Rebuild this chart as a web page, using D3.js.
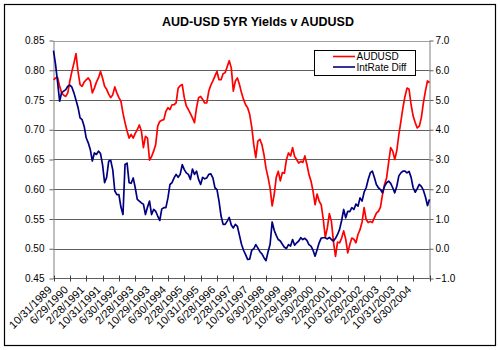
<!DOCTYPE html>
<html>
<head>
<meta charset="utf-8">
<script src="https://cdnjs.cloudflare.com/ajax/libs/d3/7.8.5/d3.min.js"></script>
<style>
  html, body { margin: 0; padding: 0; background: #fff; }
  svg { display: block; }
  text { font-family: "Liberation Sans", Arial, sans-serif; fill: #000; }
</style>
</head>
<body>
<svg id="chart" width="500" height="350"></svg>
<script>
// ---- data ----
const title = "AUD-USD 5YR Yields v AUDUSD";
const seriesNames = ["AUDUSD", "IntRate Diff"];
const tickLabels = ["10/31/1989","6/29/1990","2/28/1991","10/31/1991","6/30/1992","2/28/1993",
  "10/29/1993","6/30/1994","2/28/1995","10/31/1995","6/28/1996","2/28/1997","10/31/1997",
  "6/30/1998","2/28/1999","10/29/1999","6/30/2000","2/28/2001","10/31/2001","6/28/2002",
  "2/28/2003","10/31/2003","6/30/2004"];
const leftTicks = [0.45,0.50,0.55,0.60,0.65,0.70,0.75,0.80,0.85];
const rightTicks = [-1,0,1,2,3,4,5,6,7];

// AUDUSD (left axis), monthly from Oct 1989
const audusd = [
 .784,.787,.788,.773,.762,.758,.756,.762,.782,.798,.812,.828,.798,.776,.773,.780,.784,.787,.782,.762,
 .770,.780,.787,.798,.787,.773,.768,.760,.754,.759,.772,.762,.754,.748,.728,.712,.698,.686,.692,.686,
 .694,.700,.708,.698,.670,.689,.686,.649,.655,.664,.675,.706,.714,.716,.717,.731,.737,.734,.742,.742,
 .745,.770,.774,.776,.754,.740,.734,.727,.720,.712,.737,.754,.756,.751,.745,.745,.765,.775,.782,.790,
 .798,.784,.784,.794,.796,.806,.816,.804,.765,.782,.787,.776,.762,.751,.742,.737,.726,.705,.675,.653,
 .681,.684,.675,.658,.635,.620,.602,.572,.591,.620,.630,.614,.628,.627,.650,.661,.656,.670,.655,.650,
 .644,.647,.645,.656,.642,.625,.614,.597,.574,.592,.580,.574,.550,.519,.535,.559,.546,.512,.487,.511,
 .510,.518,.530,.516,.493,.507,.518,.516,.510,.524,.532,.545,.569,.549,.544,.546,.544,.552,.560,.563,
 .570,.591,.608,.619,.645,.670,.664,.650,.665,.692,.714,.737,.756,.770,.768,.742,.723,.712,.703,.706,
 .720,.745,.765,.782,.779
];
// Interest rate differential (right axis), monthly from Oct 1989
const intRateDiff = [
 6.66,6.20,5.60,4.96,5.25,5.30,5.35,5.46,5.50,5.43,5.24,5.00,4.75,4.40,4.34,4.12,3.73,3.56,3.34,2.95,
 3.22,3.17,3.28,3.20,2.83,2.22,2.40,2.94,2.97,2.65,1.94,1.82,1.82,1.40,1.15,2.83,2.88,2.22,2.20,2.38,
 2.05,1.66,1.60,1.54,1.50,1.15,1.40,1.60,1.15,1.32,1.26,1.10,0.95,1.34,1.38,1.38,1.71,2.16,2.22,2.38,
 2.50,2.40,2.50,2.83,2.66,2.55,2.50,2.33,2.68,2.50,2.61,2.33,2.16,2.40,2.35,2.38,2.50,2.52,2.38,2.05,
 1.99,1.60,1.10,0.82,0.82,0.93,1.05,0.80,0.70,0.82,0.75,0.45,0.15,-0.05,-0.20,-0.36,-0.35,-0.05,0.00,0.14,
 0.03,-0.10,-0.17,-0.30,-0.40,-0.10,0.15,0.90,0.62,0.45,0.31,0.26,0.15,0.05,0.01,0.14,0.09,0.31,0.12,0.20,
 0.26,0.37,0.31,0.35,0.28,0.14,0.09,-0.05,-0.25,-0.03,0.20,0.36,0.37,0.37,0.33,0.38,0.31,0.26,0.35,0.48,
 0.65,0.95,1.32,1.04,1.26,1.25,1.38,1.32,1.50,1.43,1.71,1.60,1.90,2.05,2.33,2.55,2.61,2.40,2.16,2.05,
 1.99,1.88,2.10,2.22,2.27,2.20,2.05,1.88,2.10,2.45,2.55,2.61,2.61,2.55,2.60,2.40,2.05,1.90,2.02,2.16,
 2.10,1.97,1.75,1.45,1.66
];
const tickEvery = 8; // months between category labels

// ---- layout ----
const svg = d3.select("#chart");
const M = {left: 53.5, right: 429.5, top: 40.5, bottom: 278.5};
const FONT = '"Liberation Sans", Arial, sans-serif';

const months = d3.range(audusd.length);
const x = d3.scaleLinear().domain([0, months.length - 1]).range([M.left, M.right]);
const yL = d3.scaleLinear().domain([0.45, 0.85]).range([M.bottom, M.top]);
const yR = d3.scaleLinear().domain([-1, 7]).range([M.bottom, M.top]);

// chart border
svg.append("rect").attr("x", 4.5).attr("y", 4.5).attr("width", 491).attr("height", 341)
  .attr("fill", "#fff").attr("stroke", "#000").attr("stroke-width", 1.2);

// title
svg.append("text").attr("x", 258).attr("y", 26).attr("text-anchor", "middle")
  .attr("font-size", 12.5).attr("font-weight", "bold").text(title);

// gridlines
svg.append("g").selectAll("line").data(leftTicks.slice(1)).join("line")
  .attr("x1", M.left).attr("x2", M.right)
  .attr("y1", d => Math.round(yL(d)) + 0.5).attr("y2", d => Math.round(yL(d)) + 0.5)
  .attr("stroke", (d, i) => i === leftTicks.length - 2 ? "#a0a0a0" : "#606060").attr("stroke-width", 1);

// left axis
const gL = svg.append("g").attr("transform", `translate(${M.left},0)`)
  .call(d3.axisLeft(yL).tickValues(leftTicks).tickFormat(d3.format(".2f")).tickSize(4).tickSizeOuter(0).tickPadding(5));
// right axis
const gR = svg.append("g").attr("transform", `translate(${M.right},0)`)
  .call(d3.axisRight(yR).tickValues(rightTicks).tickFormat(d3.format(".1f")).tickSize(4).tickSizeOuter(0).tickPadding(2));
[gL, gR].forEach(g => {
  g.select(".domain").attr("stroke", "#808080");
  g.selectAll(".tick line").attr("stroke", "#606060");
  g.selectAll(".tick text").attr("font-size", 10).attr("font-family", FONT).attr("fill", "#000");
});

// bottom axis (category ticks every 8 months)
const tickIdx = d3.range(0, months.length, tickEvery);
const gB = svg.append("g").attr("transform", `translate(0,${M.bottom})`);
gB.append("line").attr("x1", M.left).attr("x2", M.right).attr("y1", 0).attr("y2", 0).attr("stroke", "#606060");
gB.selectAll("line.tk").data(tickIdx).join("line").attr("class", "tk")
  .attr("x1", d => Math.round(x(d)) + 0.5).attr("x2", d => Math.round(x(d)) + 0.5)
  .attr("y1", -3).attr("y2", 3).attr("stroke", "#404040");
gB.selectAll("text").data(tickLabels).join("text")
  .attr("transform", (d, i) => `translate(${x(tickIdx[i]) - 1},${12}) rotate(-45)`)
  .attr("text-anchor", "end").attr("font-size", 11).text(d => d);

// lines
const lineL = d3.line().x((d, i) => x(i)).y(d => yL(d));
const lineR = d3.line().x((d, i) => x(i)).y(d => yR(d));
svg.append("path").datum(audusd).attr("d", lineL).attr("fill", "none")
  .attr("stroke", "#ff0000").attr("stroke-width", 1.7).attr("stroke-linejoin", "round");
svg.append("path").datum(intRateDiff).attr("d", lineR).attr("fill", "none")
  .attr("stroke", "#000080").attr("stroke-width", 1.7).attr("stroke-linejoin", "round");

// legend
const lg = svg.append("g");
lg.append("rect").attr("x", 314.5).attr("y", 50.5).attr("width", 101).attr("height", 25)
  .attr("fill", "#fff").attr("stroke", "#000").attr("stroke-width", 1);
const colors = ["#ff0000", "#000080"];
seriesNames.forEach((name, i) => {
  const yy = 56.5 + i * 10.5;
  lg.append("line").attr("x1", 333).attr("x2", 355).attr("y1", yy).attr("y2", yy)
    .attr("stroke", colors[i]).attr("stroke-width", 1.6);
  lg.append("text").attr("x", 356.5).attr("y", yy + 3.6).attr("font-size", 10).text(name);
});
</script>
</body>
</html>
